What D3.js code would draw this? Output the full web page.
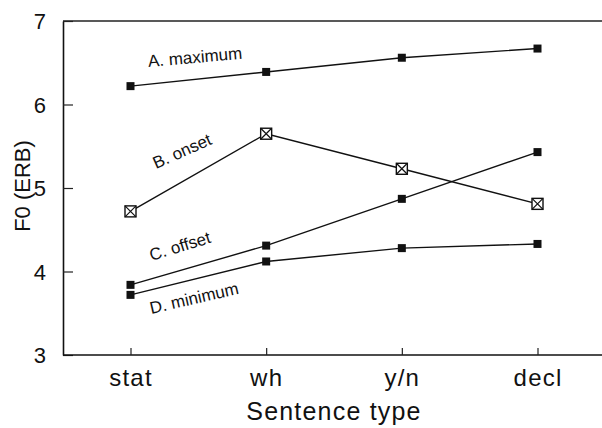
<!DOCTYPE html>
<html><head><meta charset="utf-8">
<script src="https://cdn.jsdelivr.net/npm/d3@7"></script>
<style>body{margin:0;background:#fff}svg{display:block}text{font-family:"Liberation Sans",Arial,Helvetica,sans-serif;fill:#111}</style>
</head><body><svg id="c" width="602" height="428"></svg>
<script>
const categories = ["stat", "wh", "y/n", "decl"];
const maximum = [6.22, 6.39, 6.56, 6.67];
const onset   = [4.72, 5.65, 5.23, 4.81];
const offset  = [3.84, 4.31, 4.87, 5.43];
const minimum = [3.72, 4.12, 4.28, 4.33];
const yTicks = [3, 4, 5, 6, 7];
const seriesNames = ["A. maximum", "B. onset", "C. offset", "D. minimum"];

const svg = d3.select("#c");
const x = d3.scalePoint().domain(categories).range([130.5, 537.5]);
const y = d3.scaleLinear().domain([3, 7]).range([355, 21]);
const left = 63, right = 602;

svg.append("line").attr("x1", left).attr("x2", right).attr("y1", y(7)).attr("y2", y(7))
  .attr("stroke", "#222").attr("stroke-width", 1.3);

const yAxis = svg.append("g").attr("transform", `translate(${left},0)`)
  .call(d3.axisLeft(y).tickValues(yTicks).tickFormat(d3.format("d")).tickSizeInner(-10).tickSizeOuter(0).tickPadding(17));
yAxis.select(".domain").attr("stroke", "#111").attr("stroke-width", 1.6);
yAxis.selectAll(".tick line").attr("stroke", "#222").attr("stroke-width", 1.2);
yAxis.selectAll(".tick text").attr("font-size", 22).attr("dy", "0.36em").attr("fill", "#111");

const xAxis = svg.append("g").attr("transform", `translate(0,${y(3)})`)
  .call(d3.axisBottom(x).tickSizeInner(-7).tickSizeOuter(0).tickPadding(14));
xAxis.select(".domain").attr("d", `M${left},0H${right}`).attr("stroke", "#111").attr("stroke-width", 1.6);
xAxis.selectAll(".tick line").attr("stroke", "#222").attr("stroke-width", 1.2);
xAxis.selectAll(".tick text").attr("font-size", 24).attr("fill", "#111").attr("letter-spacing", 1.2);

svg.append("text").attr("x", 334).attr("y", 420).attr("text-anchor", "middle")
  .attr("font-size", 25).attr("letter-spacing", 1.2).text("Sentence type");
svg.append("text").attr("transform", "translate(30,186) rotate(-90)").attr("text-anchor", "middle")
  .attr("font-size", 22).text("F0 (ERB)");

const series = [maximum, onset, offset, minimum];
const line = d3.line().x((d, i) => x(categories[i])).y(d => y(d));
series.forEach((s) => {
  svg.append("path").attr("d", line(s)).attr("fill", "none").attr("stroke", "#111").attr("stroke-width", 1.4);
});
series.forEach((s, k) => {
  s.forEach((v, i) => {
    const cx = x(categories[i]), cy = y(v);
    if (k === 1) {
      const h = 5.5;
      svg.append("rect").attr("x", cx - h).attr("y", cy - h).attr("width", 2 * h).attr("height", 2 * h)
        .attr("fill", "#fff").attr("stroke", "#111").attr("stroke-width", 1.4);
      svg.append("path").attr("d", `M${cx - h},${cy - h}L${cx + h},${cy + h}M${cx + h},${cy - h}L${cx - h},${cy + h}`)
        .attr("stroke", "#111").attr("stroke-width", 1.2);
    } else {
      svg.append("rect").attr("x", cx - 4).attr("y", cy - 4).attr("width", 8).attr("height", 8).attr("fill", "#111");
    }
  });
});

const labelPos = [[195, 57, -5], [182, 151, -24], [180, 246, -17], [194, 298, -13]];
seriesNames.forEach((n, k) => {
  const p = labelPos[k];
  svg.append("text").attr("transform", `translate(${p[0]},${p[1]}) rotate(${p[2]})`)
    .attr("text-anchor", "middle").attr("dy", "0.35em").attr("font-size", 17).text(n);
});
</script></body></html>
